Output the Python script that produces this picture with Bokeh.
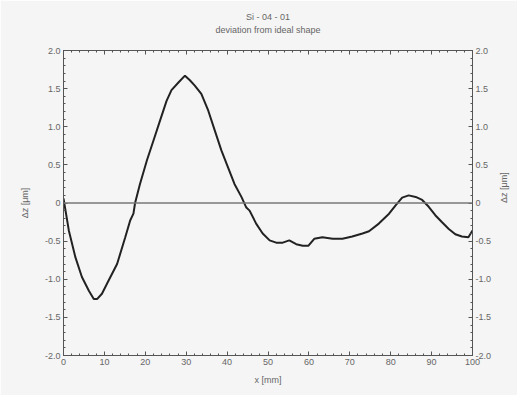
import math
from bokeh.plotting import figure
from bokeh.models import LinearAxis, FixedTicker, Span, Title, Range1d
from bokeh.embed import file_html
from bokeh.resources import INLINE

title_lines = ["Si - 04 - 01", "deviation from ideal shape"]
x_label = "x [mm]"
y_label = "\u0394z [\u03bcm]"
x_ticks = [0, 10, 20, 30, 40, 50, 60, 70, 80, 90, 100]
y_ticks = [-2.0, -1.5, -1.0, -0.5, 0.0, 0.5, 1.0, 1.5, 2.0]
y_tick_labels = ["-2.0", "-1.5", "-1.0", "-0.5", "0", "0.5", "1.0", "1.5", "2.0"]

x_mm = [0, 1.3, 2.9, 4.5, 6.2, 7.4, 8.2, 9.4, 11, 13.1, 15.1, 16.3, 17.1, 17.5,
        18.7, 20.4, 22, 23.6, 25.2, 26.4, 28.1, 29.7, 30.9, 32.1, 33.7, 35.4,
        37, 38.6, 40.2, 41.8, 43.5, 44.7, 45.5, 47.1, 48.7, 50.4, 52, 53.6,
        55.2, 56.9, 58.5, 59.9, 61.3, 63.3, 65.8, 68.2, 70.6, 73.1, 74.7, 77.1,
        79.6, 81.2, 82.8, 84.4, 86.1, 87.7, 89.3, 90.9, 92.5, 94.2, 95.8, 97.4,
        99, 100]
dz_um = [0.06, -0.36, -0.71, -0.97, -1.15, -1.26, -1.26, -1.19, -1.02, -0.80,
         -0.45, -0.23, -0.14, 0.0, 0.25, 0.56, 0.82, 1.08, 1.34, 1.48, 1.58,
         1.67, 1.61, 1.54, 1.43, 1.21, 0.95, 0.69, 0.47, 0.25, 0.08, -0.06,
         -0.10, -0.27, -0.40, -0.49, -0.52, -0.52, -0.49, -0.54, -0.56, -0.56,
         -0.47, -0.45, -0.47, -0.47, -0.44, -0.40, -0.37, -0.27, -0.14, -0.03,
         0.07, 0.10, 0.08, 0.04, -0.05, -0.16, -0.25, -0.34, -0.41, -0.44,
         -0.45, -0.36]

BG = "#f5f5f5"
TXT = "#666666"
AX = "#555555"
FONT = "Liberation Sans"

p = figure(width=517, height=395, output_backend="svg", toolbar_location=None,
           x_range=Range1d(0, 100), y_range=Range1d(-2, 2),
           min_border_left=63, min_border_right=44, min_border_top=50,
           min_border_bottom=40)
p.background_fill_color = BG
p.border_fill_color = BG
p.outline_line_color = AX
p.grid.visible = False
p.title = None

def style(ax):
    ax.axis_line_color = AX
    ax.major_tick_line_color = AX
    ax.minor_tick_line_color = AX
    ax.major_tick_in = 4
    ax.major_tick_out = 0
    ax.minor_tick_in = 2
    ax.minor_tick_out = 0
    ax.major_label_text_font = FONT
    ax.major_label_text_font_size = "9px"
    ax.major_label_text_color = TXT
    ax.axis_label_text_font = FONT
    ax.axis_label_text_font_size = "9px"
    ax.axis_label_text_font_style = "normal"
    ax.axis_label_text_color = TXT
    ax.major_label_standoff = 3

xt = FixedTicker(ticks=x_ticks, minor_ticks=[i * 2 for i in range(51)])
yt = FixedTicker(ticks=y_ticks, minor_ticks=[round(-2 + i * 0.1, 2) for i in range(41)])
ylab = dict(zip(y_ticks, y_tick_labels))

p.xaxis.ticker = xt
p.xaxis.axis_label = x_label
style(p.xaxis[0])
p.xaxis.axis_label_standoff = 7

p.yaxis.ticker = yt
p.yaxis.major_label_overrides = ylab
p.yaxis.axis_label = y_label
style(p.yaxis[0])
p.yaxis.axis_label_standoff = 12

ra = LinearAxis(ticker=yt, axis_label=y_label, major_label_overrides=ylab)
style(ra)
ra.axis_label_standoff = 10
if "axis_label_orientation" in ra.properties():
    ra.axis_label_orientation = math.pi / 2
p.add_layout(ra, "right")

# top frame with inward ticks (no labels)
ta = LinearAxis(ticker=xt, major_label_overrides={t: "" for t in x_ticks})
style(ta)
ta.major_label_standoff = 0
p.add_layout(ta, "above")

# invisible spacer between frame and titles
spacer = LinearAxis(ticker=FixedTicker(ticks=x_ticks),
                    major_label_overrides={t: "" for t in x_ticks})
spacer.axis_line_color = None
spacer.major_tick_line_color = None
spacer.minor_tick_line_color = None
spacer.major_tick_in = 0
spacer.major_tick_out = 15
spacer.minor_tick_in = 0
spacer.minor_tick_out = 0
spacer.major_label_standoff = 0
p.add_layout(spacer, "above")

for line in reversed(title_lines):
    p.add_layout(Title(text=line, align="center", text_font=FONT,
                       text_font_size="9px", text_font_style="normal",
                       text_color=TXT, standoff=1), "above")

p.add_layout(Span(location=0, dimension="width", line_color="#777777", line_width=1.5))
p.line(x_mm, dz_um, line_color="#222222", line_width=2)

open("out.html", "w").write(file_html(p, INLINE))
